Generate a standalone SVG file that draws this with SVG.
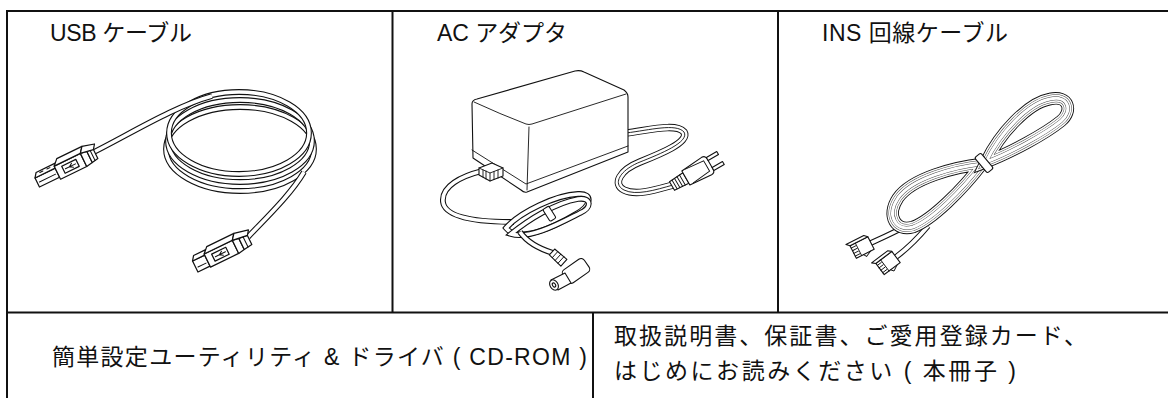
<svg xmlns="http://www.w3.org/2000/svg" width="1168" height="398" viewBox="0 0 1168 398">
<style>
.ln{stroke:#111;stroke-width:2;fill:none}
.lbl{font-family:"Liberation Sans","Noto Sans CJK JP",sans-serif;font-size:23px;fill:#111}
.o{fill:#fff;stroke:#111;stroke-width:1.1;stroke-linejoin:round}
.k{fill:none;stroke:#111;stroke-width:0.9;stroke-linecap:round}
.t1{fill:none;stroke:#111;stroke-width:5.8}
.t2{fill:none;stroke:#fff;stroke-width:3.6}
.tw1{fill:none;stroke:#111;stroke-width:7.4}
.tw2{fill:none;stroke:#fff;stroke-width:5.6}
.tw3{fill:none;stroke:#111;stroke-width:0.9}
.r1{fill:none;stroke:#111;stroke-width:12.6}
.r2{fill:none;stroke:#fff;stroke-width:10.8}
.r3{fill:none;stroke:#444;stroke-width:8}
.r4{fill:none;stroke:#fff;stroke-width:7.1}
.r5{fill:none;stroke:#444;stroke-width:4}
.r6{fill:none;stroke:#fff;stroke-width:3.1}
</style>
<defs>
<ellipse id="uL1" cx="239" cy="133" rx="70" ry="41"/>
<ellipse id="uL2" cx="240" cy="141" rx="72" ry="41"/>
<ellipse id="uL3" cx="240" cy="149" rx="74" ry="42"/>
<path id="uA" d="M92,153 C130,134 175,106 212,96"/>
<path id="uB" d="M248,237 C268,216 291,194 304,172"/>
<path id="acOut" d="M482,171 C462,176 441,186 443,202 C445,218 478,222 514,222"/>
<path id="acB1" d="M511,234 C528,220 555,203 578,199 C592,197 592,208 580,213 C562,222 530,240 511,234 Z"/>
<path id="acB2" d="M506,228 C520,212 556,195 578,194 C594,193 591,206 576,214 C556,226 519,244 506,228 Z"/>
<path id="acExit" d="M520,232 C527,242 540,249 553,253"/>
<path id="acCord" d="M626,133 C650,130 676,123 684,132 C690,142 660,154 640,162 C620,170 612,184 624,190 C636,196 655,190 673,185"/>
<path id="insLow" d="M982,164 C955,167 912,178 898,198 C886,216 896,232 913,227 C932,220 962,190 982,164 Z"/>
<path id="insUp" d="M986,162 C1000,133 1028,103 1050,99 C1069,95 1073,111 1061,121 C1045,134 1010,153 986,162 Z"/>
<path id="insC1" d="M906,226 C895,232 884,237 871,243"/>
<path id="insC2" d="M928,226 C918,238 908,248 896,257"/>
</defs>

<g id="table">
<path class="ln" d="M6,11 H1168"/>
<path class="ln" d="M7,10 V398"/>
<path class="ln" d="M7,312.5 H1168"/>
<path class="ln" d="M392.5,11 V312.5"/>
<path class="ln" d="M778,11 V312.5"/>
<path class="ln" d="M593,312.5 V398"/>
</g>

<g id="usb-cable">
<text class="lbl" x="50" y="41" textLength="142">USB ケーブル</text>
<use href="#uL3" class="t1"/><use href="#uL3" class="t2"/>
<use href="#uL2" class="t1"/><use href="#uL2" class="t2"/>
<use href="#uL1" class="t1"/><use href="#uL1" class="t2"/>
<use href="#uA" class="t1"/><use href="#uA" class="t2"/>
<use href="#uB" class="t1"/><use href="#uB" class="t2"/>
<g transform="translate(37,182) rotate(-26) scale(1.12)">
<path class="o" d="M0,-4 L20,-4 L20,5 L0,5 Z"/>
<path class="o" d="M0,-4 L3,-8 L23,-8 L20,-4 Z"/>
<path class="k" d="M2,1 L18,1 M6,-6.5 L9,-6.5 M13,-6.5 L16,-6.5"/>
<path class="o" d="M20,-6 L46,-6 L46,7 L20,7 Z"/>
<path class="o" d="M20,-6 L25,-11 L50,-11 L46,-6 Z"/>
<rect class="o" x="26" y="-3" width="14" height="7"/>
<path class="k" d="M28,0.5 L38,0.5 M32,0.5 L35,-1.5 M32,0.5 L35,2.5"/>
<path class="o" d="M46,-6 L52,-5 L52,6 L46,7 Z"/>
<path class="o" d="M52,-5 L58,-4 L58,5 L52,6 Z"/>
<path class="o" d="M46,-6 L50,-11 L61,-8 L58,-4 Z"/>
<path class="k" d="M55,-4.5 L55,5.5"/>
</g>
<g transform="translate(195,266) rotate(-26) scale(1.12)">
<path class="o" d="M0,-5 L12,-5 L12,6 L0,6 Z"/>
<path class="o" d="M0,-5 L3,-9 L15,-9 L12,-5 Z"/>
<path class="k" d="M2,2 L10,2"/>
<path class="o" d="M12,-6 L40,-6 L40,7 L12,7 Z"/>
<path class="o" d="M12,-6 L17,-11 L44,-11 L40,-6 Z"/>
<rect class="o" x="18" y="-3" width="14" height="7"/>
<path class="k" d="M20,0.5 L30,0.5 M24,0.5 L27,-1.5 M24,0.5 L27,2.5"/>
<path class="o" d="M40,-6 L46,-5 L46,6 L40,7 Z"/>
<path class="o" d="M46,-5 L54,-4 L54,5 L46,6 Z"/>
<path class="o" d="M40,-6 L44,-11 L57,-8 L54,-4 Z"/>
<path class="k" d="M50,-4.5 L50,5.5"/>
</g>
</g>

<g id="ac-adapter">
<text class="lbl" x="437" y="41" textLength="130">AC アダプタ</text>
<use href="#acOut" class="t1"/><use href="#acOut" class="t2"/>
<use href="#acB2" class="t1"/><use href="#acB2" class="t2"/>
<use href="#acB1" class="t1"/><use href="#acB1" class="t2"/>
<use href="#acExit" class="t1"/><use href="#acExit" class="t2"/>
<rect class="o" x="-3" y="-7" width="7" height="14" rx="1.5" transform="translate(549,214) rotate(-32)"/>
<use href="#acCord" class="tw1"/><use href="#acCord" class="tw2"/><use href="#acCord" class="tw3"/>
<g transform="translate(552,252) rotate(42)">
<path class="o" d="M0,-4 L16,-4.5 L16,4.5 L0,4 Z"/>
<path class="k" d="M4,-4 L4,4 M8,-4.2 L8,4.2 M12,-4.4 L12,4.4"/>
</g>
<rect class="o" x="-13" y="-8" width="26" height="16" rx="4" transform="translate(576,271) rotate(-35)"/>
<path class="o" d="M565,273 L571,283 L558,290 L551,280 Z"/>
<ellipse class="o" cx="554" cy="285" rx="4" ry="5.5" transform="rotate(-30 554 285)"/>
<ellipse class="o" cx="554" cy="285" rx="1.5" ry="2.2" transform="rotate(-30 554 285)"/>
<g transform="translate(672,186) rotate(-30)">
<path class="o" d="M0,-5 L16,-6 L16,6 L0,5 Z"/>
<path class="k" d="M3,-5 L3,5 M6,-5.3 L6,5.3 M9,-5.6 L9,5.6 M12,-5.8 L12,5.8"/>
<path class="o" d="M16,-8 L40,-10 Q44,-10 44,-6 L44,6 Q44,10 40,10 L16,8 Z"/>
<path class="k" d="M20,-8 L40,-6 L40,6 L20,8"/>
<rect class="o" x="44" y="-7.5" width="12" height="3.5"/>
<rect class="o" x="44" y="4" width="12" height="3.5"/>
</g>
<path class="o" d="M477,99 L575,71 Q580,70 584,72 L624,90 Q628,93 628,97 L628,152 L527,192 Q524,193 521,190 L473,158 L472,104 Q472,100 477,99 Z"/>
<path class="k" d="M474,102 Q500,114 526,124 Q529,125 532,124 L626,94"/>
<path class="k" d="M529,127 L527,190"/>
<path class="k" d="M472,150 L526,184 L628,146"/>
<path class="o" d="M479,168 L492,163 L503,168 L503,176 L490,181 L479,175 Z"/>
<path class="k" d="M479,168 L490,173 L503,168 M490,173 L490,181 M483,170 L483,177 M486,171 L486,179 M494,171.5 L494,179.5 M498,170 L498,178"/>
</g>

<g id="ins-cable">
<text class="lbl" x="822" y="41" textLength="186">INS 回線ケーブル</text>
<use href="#insC1" class="t1"/><use href="#insC1" class="t2"/>
<use href="#insC2" class="t1"/><use href="#insC2" class="t2"/>
<use href="#insLow" class="r1"/><use href="#insLow" class="r2"/><use href="#insLow" class="r3"/><use href="#insLow" class="r4"/><use href="#insLow" class="r5"/><use href="#insLow" class="r6"/>
<use href="#insUp" class="r1"/><use href="#insUp" class="r2"/><use href="#insUp" class="r3"/><use href="#insUp" class="r4"/><use href="#insUp" class="r5"/><use href="#insUp" class="r6"/>
<rect class="o" x="-4" y="-10" width="8" height="20" rx="2" transform="translate(984,163) rotate(-40)"/>
<g transform="translate(871,243) rotate(153)">
<path class="o" d="M0,-7 L20,-7 L20,7 L0,7 Z"/>
<path class="o" d="M0,7 L3,10 L23,10 L20,7 Z"/>
<path class="k" d="M14,-7 L14,7 M15,-4.5 L20,-4.5 M15,-1.5 L20,-1.5 M15,1.5 L20,1.5 M15,4.5 L20,4.5 M4,-7 L10,-10 L12,-7"/>
</g>
<g transform="translate(896,257) rotate(143)">
<path class="o" d="M0,-7 L20,-7 L20,7 L0,7 Z"/>
<path class="o" d="M0,7 L3,10 L23,10 L20,7 Z"/>
<path class="k" d="M14,-7 L14,7 M15,-4.5 L20,-4.5 M15,-1.5 L20,-1.5 M15,1.5 L20,1.5 M15,4.5 L20,4.5 M4,-7 L10,-10 L12,-7"/>
</g>
</g>

<g id="cd-rom">
<text class="lbl" x="52" y="365" textLength="535">簡単設定ユーティリティ &amp; ドライバ ( CD-ROM )</text>
</g>

<g id="documents">
<text class="lbl" x="614" y="344" textLength="473">取扱説明書、保証書、ご愛用登録カード、</text>
<text class="lbl" x="614" y="379" textLength="402">はじめにお読みください ( 本冊子 )</text>
</g>
</svg>
